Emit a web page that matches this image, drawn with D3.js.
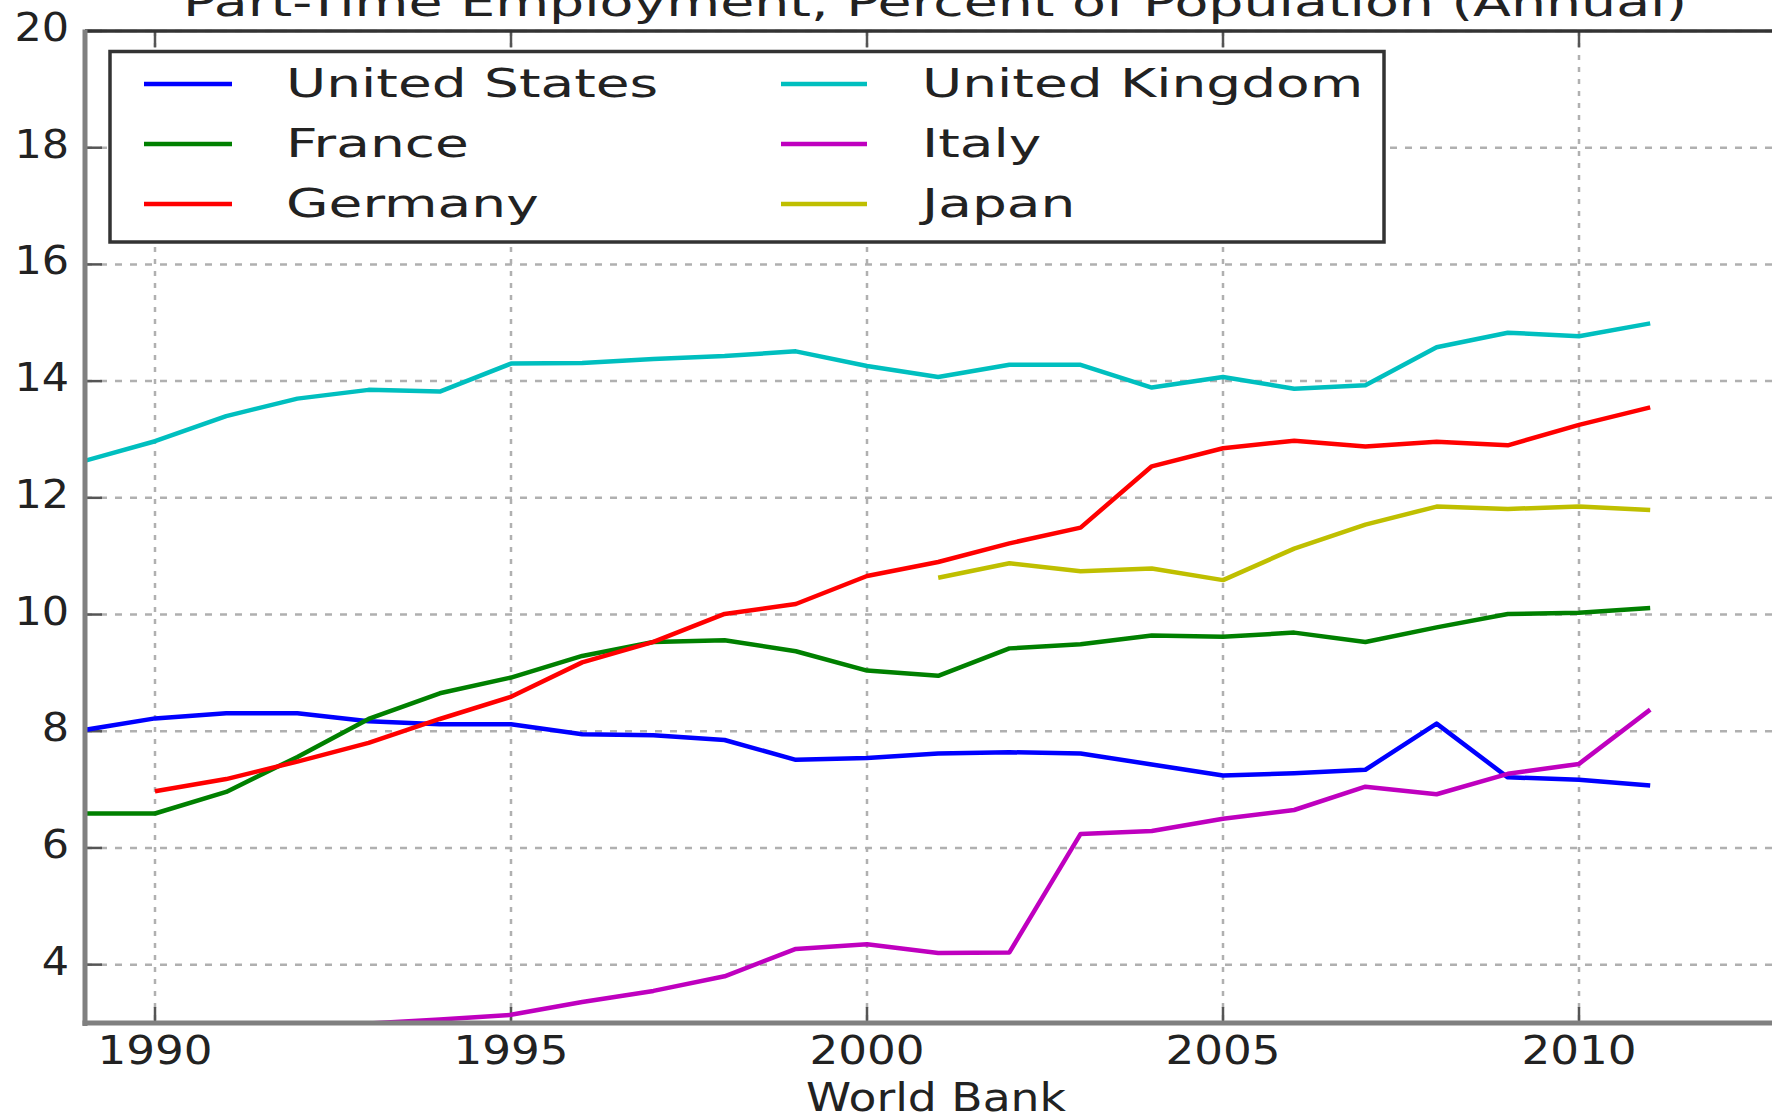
<!DOCTYPE html>
<html>
<head>
<meta charset="utf-8">
<script src="https://cdn.jsdelivr.net/npm/d3@7"></script>
<style>
  html, body { margin: 0; padding: 0; background: #fff; }
  svg { display: block; }
  text { font-family: "DejaVu Sans", sans-serif; fill: #222; }
</style>
</head>
<body>
<svg id="chart" width="1772" height="1117"></svg>
<script>
// ---- data ----
const years = [1989, 1990, 1991, 1992, 1993, 1994, 1995, 1996, 1997, 1998, 1999, 2000,
               2001, 2002, 2003, 2004, 2005, 2006, 2007, 2008, 2009, 2010, 2011];

const unitedStates = [8.02, 8.22, 8.31, 8.31, 8.17, 8.12, 8.12, 7.95, 7.93, 7.85, 7.51, 7.54,
                      7.62, 7.64, 7.62, 7.43, 7.24, 7.28, 7.34, 8.13, 7.21, 7.17, 7.07];
const france       = [6.59, 6.59, 6.96, 7.56, 8.21, 8.65, 8.92, 9.29, 9.53, 9.56, 9.37, 9.04,
                      8.95, 9.42, 9.49, 9.64, 9.62, 9.69, 9.53, 9.78, 10.01, 10.03, 10.11];
const germany      = [null, 6.97, 7.18, 7.48, 7.80, 8.21, 8.59, 9.18, 9.53, 10.01, 10.18, 10.66,
                      10.90, 11.22, 11.49, 12.54, 12.85, 12.98, 12.88, 12.96, 12.90, 13.25, 13.55];
const unitedKingdom = [12.63, 12.97, 13.40, 13.70, 13.85, 13.82, 14.30, 14.31, 14.38, 14.43, 14.51, 14.26,
                       14.07, 14.28, 14.28, 13.89, 14.07, 13.87, 13.93, 14.58, 14.83, 14.77, 14.99];
const italy        = [null, null, null, null, 2.99, 3.06, 3.14, 3.36, 3.55, 3.80, 4.27, 4.35,
                      4.20, 4.21, 6.24, 6.29, 6.50, 6.65, 7.05, 6.92, 7.27, 7.44, 8.37];
const japan        = [null, null, null, null, null, null, null, null, null, null, null, null,
                      10.63, 10.88, 10.74, 10.79, 10.59, 11.13, 11.54, 11.85, 11.81, 11.85, 11.79];

const seriesNames  = ["United States", "France", "Germany", "United Kingdom", "Italy", "Japan"];
const seriesValues = [unitedStates, france, germany, unitedKingdom, italy, japan];
const seriesColors = ["#0000ff", "#008000", "#ff0000", "#00bfbf", "#bf00bf", "#bfbf00"];

const xTicks = [1990, 1995, 2000, 2005, 2010];
const yTicks = [4, 6, 8, 10, 12, 14, 16, 18, 20];

const titleText = "Part-Time Employment, Percent of Population (Annual)";
const xLabelText = "World Bank";

// ---- layout ----
const svg = d3.select("#chart");
const plot = { left: 85, right: 1792.6, top: 31, bottom: 1023 };

const x = d3.scaleLinear().domain([1989, 2013]).range([plot.left - 1.2, plot.right]);
const y = d3.scaleLinear().domain([3, 20]).range([plot.bottom, plot.top]);

const FONT = 39;
function stretchedText(parent, tx, ty, str, sx, anchor) {
  const g = parent.append("g").attr("transform", `translate(${tx},${ty}) scale(${sx},1)`);
  return g.append("text").attr("x", 0).attr("y", 0)
    .attr("font-size", FONT).attr("text-anchor", anchor || "start").text(str);
}

svg.append("defs").append("clipPath").attr("id", "plotclip")
  .append("rect").attr("x", plot.left).attr("y", plot.top)
  .attr("width", plot.right - plot.left).attr("height", plot.bottom - plot.top);

// gridlines
const grid = svg.append("g");
grid.selectAll("line.h").data(yTicks).join("line")
  .attr("x1", plot.left).attr("x2", plot.right)
  .attr("y1", d => y(d)).attr("y2", d => y(d))
  .attr("stroke", "#b0b0b0").attr("stroke-width", 2.5).attr("stroke-dasharray", "7,8");
grid.selectAll("line.v").data(xTicks).join("line")
  .attr("x1", d => x(d)).attr("x2", d => x(d))
  .attr("y1", plot.top).attr("y2", plot.bottom)
  .attr("stroke", "#b0b0b0").attr("stroke-width", 2.5).attr("stroke-dasharray", "5,7");

// ticks (inward)
const ticks = svg.append("g").attr("stroke", "#555").attr("stroke-width", 2.5);
ticks.selectAll("line.yt").data(yTicks).join("line")
  .attr("x1", plot.left).attr("x2", plot.left + 17)
  .attr("y1", d => y(d)).attr("y2", d => y(d));
ticks.selectAll("line.xtb").data(xTicks).join("line")
  .attr("x1", d => x(d)).attr("x2", d => x(d))
  .attr("y1", plot.bottom).attr("y2", plot.bottom - 16);
ticks.selectAll("line.xtt").data(xTicks).join("line")
  .attr("x1", d => x(d)).attr("x2", d => x(d))
  .attr("y1", plot.top).attr("y2", plot.top + 16);

// lines
const lineGen = d3.line()
  .defined(d => d[1] !== null)
  .x(d => x(d[0])).y(d => y(d[1]));
const linesG = svg.append("g").attr("clip-path", "url(#plotclip)");
seriesValues.forEach((vals, i) => {
  linesG.append("path")
    .datum(years.map((yr, j) => [yr, vals[j]]))
    .attr("d", lineGen)
    .attr("fill", "none")
    .attr("stroke", seriesColors[i])
    .attr("stroke-width", 4.5)
    .attr("stroke-linejoin", "round");
});

// spines
svg.append("line").attr("x1", plot.left).attr("x2", plot.right).attr("y1", plot.top).attr("y2", plot.top)
  .attr("stroke", "#333").attr("stroke-width", 3.5);
svg.append("line").attr("x1", plot.left).attr("x2", plot.left).attr("y1", plot.top - 1.5).attr("y2", plot.bottom + 3)
  .attr("stroke", "#808080").attr("stroke-width", 5);
svg.append("line").attr("x1", plot.left - 2.5).attr("x2", plot.right).attr("y1", plot.bottom).attr("y2", plot.bottom)
  .attr("stroke", "#808080").attr("stroke-width", 5);

// tick labels
const tl = svg.append("g");
yTicks.forEach(v => stretchedText(tl, 69, y(v) + 10, String(v), 1.1, "end"));
xTicks.forEach(v => stretchedText(tl, x(v), 1064, String(v), 1.16, "middle"));

// axis label and title
stretchedText(svg, 936, 1111, xLabelText, 1.17, "middle");
stretchedText(svg, 935, 16, titleText, 1.42, "middle");

// legend
const leg = svg.append("g");
leg.append("rect").attr("x", 110).attr("y", 51.5).attr("width", 1274).attr("height", 190.5)
  .attr("fill", "#fff").attr("stroke", "#333").attr("stroke-width", 3.5);
const colX = [{ h0: 144, h1: 232, t: 286 }, { h0: 781, h1: 867, t: 922 }];
const rowY = [84, 144, 204];
seriesNames.forEach((name, i) => {
  const c = colX[Math.floor(i / 3)];
  const ry = rowY[i % 3];
  leg.append("line").attr("x1", c.h0).attr("x2", c.h1).attr("y1", ry).attr("y2", ry)
    .attr("stroke", seriesColors[i]).attr("stroke-width", 4.5);
  stretchedText(leg, c.t, ry + 13, name, 1.41, "start");
});
</script>
</body>
</html>
